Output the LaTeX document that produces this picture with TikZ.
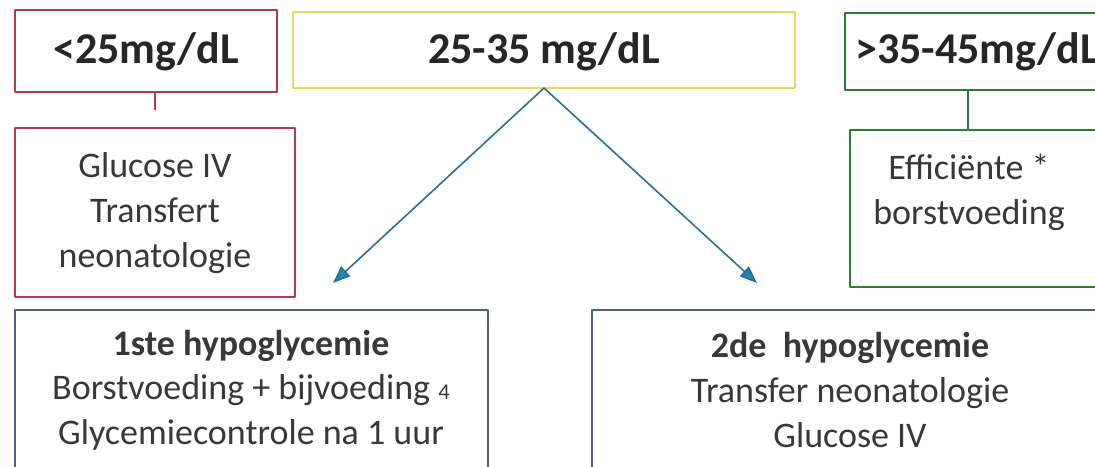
\documentclass[tikz,border=0pt]{standalone}
\usepackage{fontspec}
\setmainfont{Carlito}
\usetikzlibrary{positioning,arrows.meta}
\definecolor{lowred}{HTML}{B23A4A}
\definecolor{midyellow}{HTML}{E8D852}
\definecolor{okgreen}{HTML}{2F7A34}
\definecolor{hypoblue}{HTML}{4A6580}
\definecolor{arrowblue}{HTML}{2A6E96}
\definecolor{txtgray}{HTML}{383838}
\begin{document}
\begin{tikzpicture}[x=0.75pt, y=-0.75pt, line join=round,
    box/.style={draw, line width=1.8pt, inner sep=0pt, outer sep=0pt, anchor=north west},
    head/.style={font=\fontsize{33}{38}\selectfont\bfseries, text=black!85},
    body/.style={align=center, font=\fontsize{27}{33.5}\selectfont, text=txtgray},
    link/.style={line width=1.8pt},
    flow/.style={line width=1.2pt, draw=arrowblue, -{Triangle[length=13pt, width=10pt, fill=arrowblue!85!cyan]}}]
  \useasboundingbox (0,0) rectangle (1095,467);
  \clip (0,0) rectangle (1095,467);
  % boxes
  \node[box, draw=lowred, minimum width=262*.75pt, minimum height=82*.75pt] (lowtop) at (15,10) {};
  \node[box, draw=lowred, minimum width=280*.75pt, minimum height=169*.75pt] (lowact) at (15,128) {};
  \node[box, draw=midyellow, minimum width=502*.75pt, minimum height=76*.75pt] (midtop) at (293,12) {};
  \node[box, draw=okgreen, minimum width=280*.75pt, minimum height=77*.75pt] (oktop) at (845,13) {};
  \node[box, draw=okgreen, minimum width=280*.75pt, minimum height=157*.75pt] (okact) at (850,130) {};
  \node[box, draw=hypoblue, minimum width=473*.75pt, minimum height=200*.75pt] (hypo1) at (15,310) {};
  \node[box, draw=hypoblue, minimum width=530*.75pt, minimum height=200*.75pt] (hypo2) at (592,310) {};
  % labels
  \node[head] (lowlbl) at (146,52) {<25mg/dL};
  \node[head] (midlbl) at (544,52) {25-35 mg/dL};
  \node[head, anchor=west, inner sep=0pt] (oklbl) at (855,52) {>35-45mg/dL};
  \node[body] (lowtxt) at (155,213) {Glucose IV\\Transfert\\neonatologie};
  \node[body] (oktxt) at (969,192) {Efficiënte *\\borstvoeding};
  \node[body] (hypo1txt) at (251,390) {\textbf{1ste hypoglycemie}\\Borstvoeding + bijvoeding {\fontsize{17}{20}\selectfont 4}\\Glycemiecontrole na 1 uur};
  \node[body] (hypo2txt) at (850,390) {\textbf{2de\ \ hypoglycemie}\\Transfer neonatologie\\Glucose IV};
  % connectors
  \coordinate (lowstub) at (155,110);
  \coordinate (okstub) at (968,110);
  \coordinate (tip1) at (333,283);
  \coordinate (tip2) at (757,283);
  \draw[link, draw=lowred] (lowstub |- lowtop.south) -- (lowstub);
  \draw[link, draw=okgreen] (okstub |- oktop.south) -- (okstub |- okact.north);
  \draw[flow] (midtop.south) -- (tip1);
  \draw[flow] (midtop.south) -- (tip2);
\end{tikzpicture}
\end{document}
